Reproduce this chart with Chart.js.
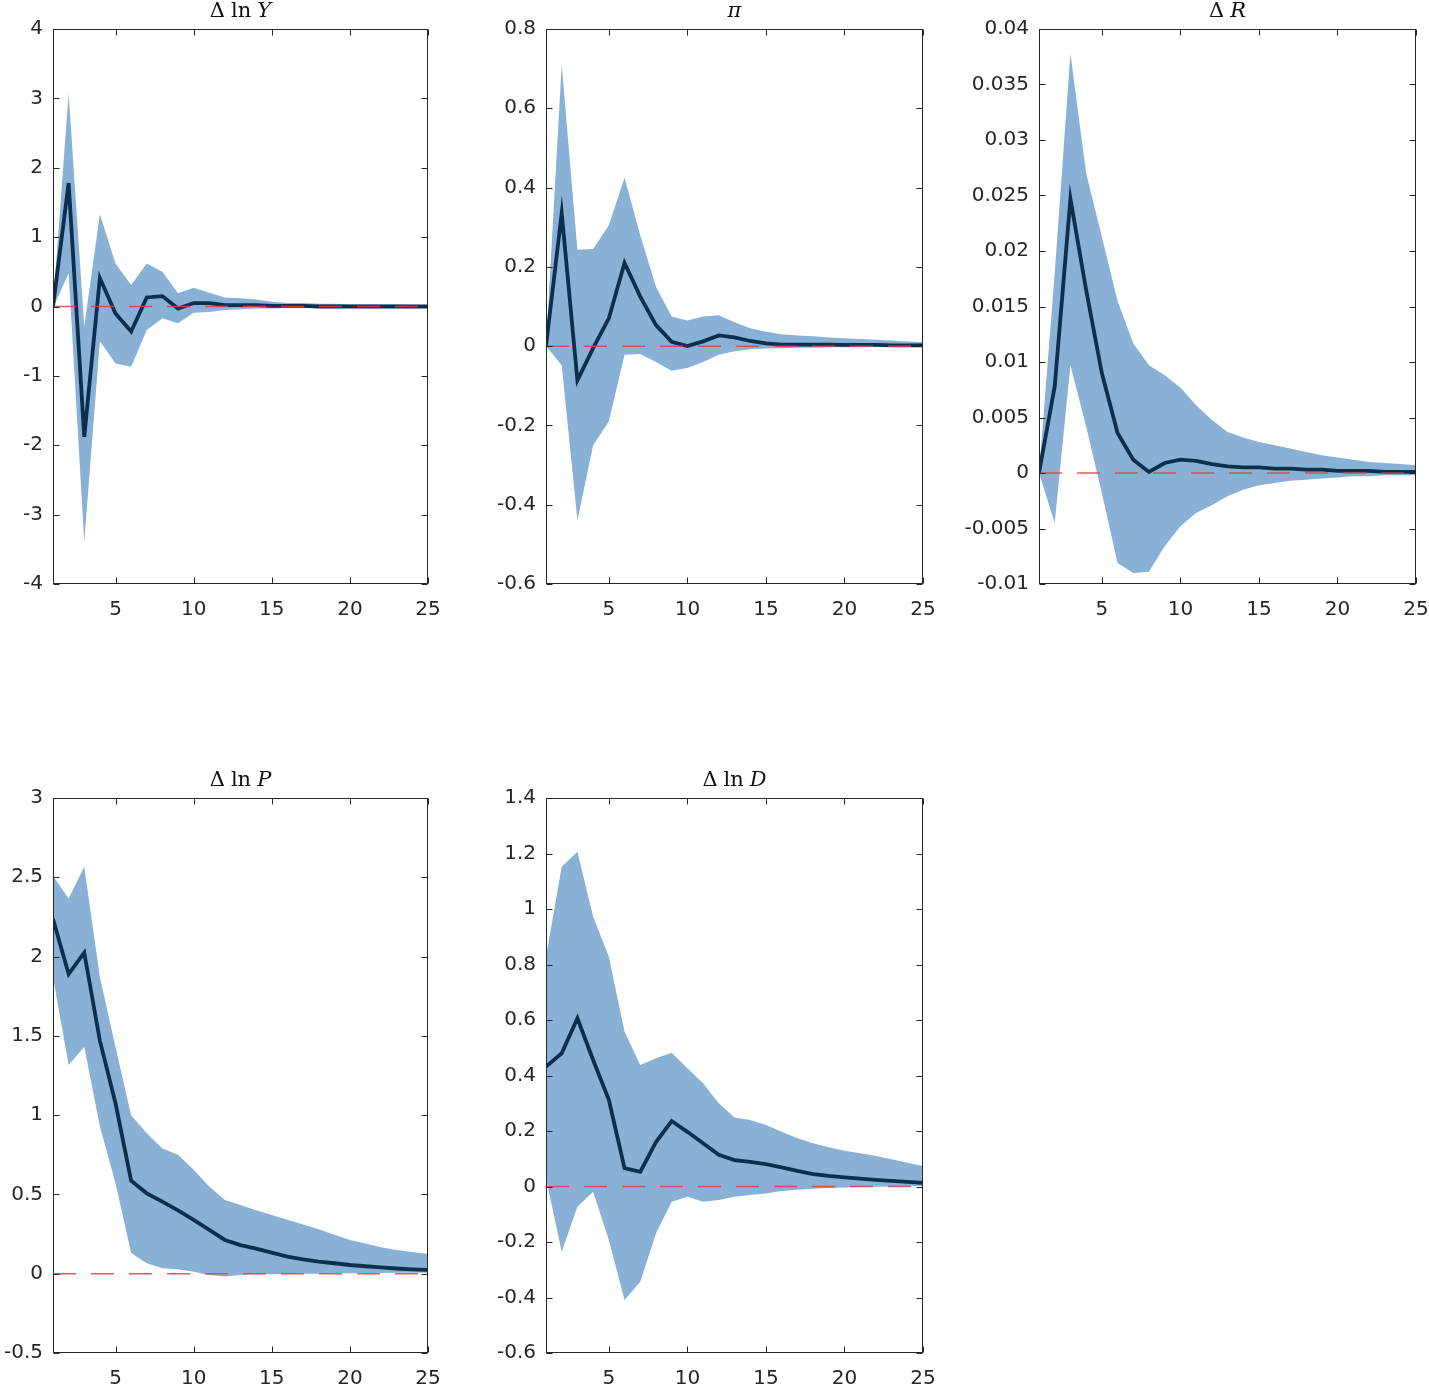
<!DOCTYPE html>
<html>
<head>
<meta charset="utf-8">
<script src="https://cdn.jsdelivr.net/npm/chart.js@4.4.1/dist/chart.umd.min.js"></script>
<style>
  html, body { margin: 0; padding: 0; background: #fff; }
  body { width: 1429px; height: 1388px; position: relative; overflow: hidden; }
  .panel { position: absolute; }
</style>
</head>
<body>
<div class="panel" id="p1"><canvas id="c1"></canvas></div>
<div class="panel" id="p2"><canvas id="c2"></canvas></div>
<div class="panel" id="p3"><canvas id="c3"></canvas></div>
<div class="panel" id="p4"><canvas id="c4"></canvas></div>
<div class="panel" id="p5"><canvas id="c5"></canvas></div>
<script>
// horizons on the x axis
const horizons = [1, 2, 3, 4, 5, 6, 7, 8, 9, 10, 11, 12, 13, 14, 15, 16, 17, 18, 19, 20, 21, 22, 23, 24, 25];
const xTicks = [5, 10, 15, 20, 25];

// Δ ln Y
const dlnYMedian = [0, 1.78, -1.88, 0.41, -0.10, -0.36, 0.13, 0.15, -0.03, 0.05, 0.05, 0.02, 0.02, 0.02, 0.01, 0.01, 0.01, 0.00, 0.00, 0.00, 0.00, 0.00, 0.00, 0.00, 0.00];
const dlnYUpper = [0.02, 3.07, -0.29, 1.33, 0.62, 0.31, 0.62, 0.50, 0.19, 0.27, 0.20, 0.13, 0.12, 0.10, 0.07, 0.05, 0.05, 0.04, 0.04, 0.03, 0.03, 0.03, 0.03, 0.02, 0.02];
const dlnYLower = [-0.02, 0.48, -3.39, -0.50, -0.82, -0.87, -0.34, -0.17, -0.24, -0.09, -0.08, -0.05, -0.04, -0.03, -0.03, -0.02, -0.02, -0.02, -0.02, -0.02, -0.02, -0.02, -0.02, -0.02, -0.02];
const dlnYTicks = [-4, -3, -2, -1, 0, 1, 2, 3, 4];

// π
const piMedian = [0, 0.335, -0.086, -0.005, 0.07, 0.21, 0.125, 0.053, 0.011, 0.0, 0.012, 0.027, 0.022, 0.013, 0.007, 0.004, 0.004, 0.004, 0.004, 0.003, 0.003, 0.003, 0.002, 0.002, 0.002];
const piUpper = [0, 0.71, 0.243, 0.245, 0.305, 0.425, 0.28, 0.15, 0.075, 0.065, 0.075, 0.078, 0.06, 0.045, 0.036, 0.03, 0.027, 0.025, 0.022, 0.02, 0.018, 0.016, 0.014, 0.012, 0.01];
const piLower = [0, -0.048, -0.44, -0.25, -0.19, -0.022, -0.02, -0.04, -0.062, -0.055, -0.04, -0.022, -0.013, -0.008, -0.006, -0.005, -0.004, -0.004, -0.003, -0.003, -0.003, -0.002, -0.002, -0.002, -0.002];
const piTicks = [-0.6, -0.4, -0.2, 0, 0.2, 0.4, 0.6, 0.8];

// Δ R
const dRMedian = [0, 0.0078, 0.0247, 0.0165, 0.009, 0.0036, 0.0012, 0.0001, 0.0009, 0.0012, 0.0011, 0.0008, 0.0006, 0.0005, 0.0005, 0.0004, 0.0004, 0.0003, 0.0003, 0.0002, 0.0002, 0.0002, 0.0001, 0.0001, 0.0001];
const dRUpper = [0, 0.018, 0.0378, 0.027, 0.0213, 0.0155, 0.0117, 0.0097, 0.0088, 0.0077, 0.0061, 0.0048, 0.0037, 0.0032, 0.0028, 0.0025, 0.0022, 0.0019, 0.0016, 0.0014, 0.0012, 0.001, 0.0009, 0.0008, 0.0007];
const dRLower = [0, -0.0045, 0.0097, 0.0042, -0.0018, -0.0081, -0.009, -0.0089, -0.0066, -0.0048, -0.0036, -0.0029, -0.0021, -0.0015, -0.0011, -0.0009, -0.0007, -0.0006, -0.0005, -0.0004, -0.0003, -0.0003, -0.0002, -0.0002, -0.0002];
const dRTicks = [-0.01, -0.005, 0, 0.005, 0.01, 0.015, 0.02, 0.025, 0.03, 0.035, 0.04];

// Δ ln P
const dlnPMedian = [2.237, 1.89, 2.025, 1.47, 1.075, 0.587, 0.507, 0.455, 0.40, 0.34, 0.276, 0.213, 0.18, 0.158, 0.133, 0.108, 0.091, 0.076, 0.066, 0.055, 0.047, 0.04, 0.033, 0.028, 0.024];
const dlnPUpper = [2.51, 2.367, 2.567, 1.87, 1.43, 1.0, 0.886, 0.79, 0.75, 0.655, 0.55, 0.465, 0.434, 0.40, 0.37, 0.34, 0.31, 0.28, 0.245, 0.213, 0.19, 0.167, 0.15, 0.137, 0.125];
const dlnPLower = [1.87, 1.317, 1.43, 0.93, 0.57, 0.13, 0.066, 0.035, 0.028, 0.013, -0.008, -0.018, -0.008, -0.002, -0.003, -0.002, 0, 0, 0.002, 0.003, 0.004, 0.005, 0.006, 0.006, 0.006];
const dlnPTicks = [-0.5, 0, 0.5, 1, 1.5, 2, 2.5, 3];

// Δ ln D
const dlnDMedian = [0.432, 0.48, 0.606, 0.456, 0.312, 0.066, 0.053, 0.16, 0.236, 0.197, 0.156, 0.114, 0.095, 0.089, 0.081, 0.069, 0.056, 0.045, 0.038, 0.033, 0.028, 0.024, 0.02, 0.017, 0.013];
const dlnDUpper = [0.828, 1.152, 1.206, 0.972, 0.828, 0.558, 0.438, 0.462, 0.482, 0.426, 0.372, 0.30, 0.249, 0.24, 0.222, 0.197, 0.174, 0.156, 0.141, 0.129, 0.12, 0.11, 0.098, 0.086, 0.074];
const dlnDLower = [0.03, -0.235, -0.073, -0.019, -0.193, -0.409, -0.343, -0.169, -0.055, -0.037, -0.055, -0.049, -0.037, -0.031, -0.025, -0.016, -0.012, -0.008, -0.005, -0.004, -0.002, -0.001, 0, 0.001, 0.002];
const dlnDTicks = [-0.6, -0.4, -0.2, 0, 0.2, 0.4, 0.6, 0.8, 1, 1.2, 1.4];

const bandColor = "#89b1d6";
const lineColor = "#0c2f4f";
const zeroColor = "rgba(226, 62, 72, 0.85)";
const axisColor = "#262626";
const tickFont = { family: "DejaVu Sans", size: 20 };

// padding around each plot area inside its canvas
const padTop = 28;
const padRight = 32;
const xAxisHeight = 36;

const panels = [
  { id: "1", title: [["Δ", false], ["ln", false], ["Y", true]], median: dlnYMedian, upper: dlnYUpper, lower: dlnYLower, ticks: dlnYTicks, left: 53, top: 29, w: 375, h: 555, yw: 53 },
  { id: "2", title: [["π", true]], median: piMedian, upper: piUpper, lower: piLower, ticks: piTicks, left: 546, top: 29, w: 377, h: 555, yw: 86 },
  { id: "3", title: [["Δ", false], ["R", true]], median: dRMedian, upper: dRUpper, lower: dRLower, ticks: dRTicks, left: 1039, top: 29, w: 377, h: 555, yw: 88 },
  { id: "4", title: [["Δ", false], ["ln", false], ["P", true]], median: dlnPMedian, upper: dlnPUpper, lower: dlnPLower, ticks: dlnPTicks, left: 53, top: 798, w: 375, h: 555, yw: 53 },
  { id: "5", title: [["Δ", false], ["ln", false], ["D", true]], median: dlnDMedian, upper: dlnDUpper, lower: dlnDLower, ticks: dlnDTicks, left: 546, top: 798, w: 377, h: 555, yw: 86 },
];

// box, inward ticks on all four sides, and the LaTeX-ish title
const frameAndTitle = {
  id: "frameAndTitle",
  afterDatasetsDraw(chart, args, opts) {
    const { ctx, chartArea: a, scales } = chart;
    ctx.save();
    ctx.strokeStyle = axisColor;
    ctx.lineWidth = 1;
    const L = Math.round(a.left) + 0.5, R = Math.round(a.right) - 0.5;
    const T = Math.round(a.top) + 0.5, B = Math.round(a.bottom) - 0.5;
    ctx.strokeRect(L, T, R - L, B - T);
    const tl = 6;
    ctx.beginPath();
    xTicks.forEach((v) => {
      const x = Math.round(scales.x.getPixelForValue(v)) + 0.5;
      ctx.moveTo(x, B); ctx.lineTo(x, B - tl);
      ctx.moveTo(x, T); ctx.lineTo(x, T + tl);
    });
    opts.yTicks.forEach((v) => {
      const y = Math.round(scales.y.getPixelForValue(v)) + 0.5;
      ctx.moveTo(L, y); ctx.lineTo(L + tl, y);
      ctx.moveTo(R, y); ctx.lineTo(R - tl, y);
    });
    ctx.stroke();
    ctx.restore();
  },
  afterDraw(chart, args, opts) {
    const { ctx, chartArea: a } = chart;
    const gap = 6;
    ctx.save();
    ctx.fillStyle = "#111";
    ctx.textBaseline = "alphabetic";
    const fontFor = (it) => (it ? "italic " : "") + "21px 'DejaVu Serif'";
    let total = 0;
    opts.parts.forEach(([t, it], i) => {
      ctx.font = fontFor(it);
      total += ctx.measureText(t).width + (i ? gap : 0);
    });
    let x = (a.left + a.right) / 2 - total / 2;
    const y = a.top - 12;
    opts.parts.forEach(([t, it]) => {
      ctx.font = fontFor(it);
      ctx.fillText(t, x, y);
      x += ctx.measureText(t).width + gap;
    });
    ctx.restore();
  },
};

panels.forEach((p) => {
  const box = document.getElementById("p" + p.id);
  box.style.left = p.left - p.yw + "px";
  box.style.top = p.top - padTop + "px";
  box.style.width = p.yw + p.w + padRight + "px";
  box.style.height = padTop + p.h + xAxisHeight + "px";

  const pts = (arr) => horizons.map((h, i) => ({ x: h, y: arr[i] }));

  new Chart(document.getElementById("c" + p.id), {
    type: "line",
    plugins: [frameAndTitle],
    data: {
      datasets: [
        {
          data: [{ x: horizons[0], y: 0 }, { x: horizons[horizons.length - 1], y: 0 }],
          borderColor: zeroColor, borderWidth: 1.5, borderDash: [23, 15], pointRadius: 0, fill: false,
        },
        { data: pts(p.median), borderColor: lineColor, borderWidth: 3.8, pointRadius: 0, fill: false, tension: 0 },
        { data: pts(p.upper), borderWidth: 0, borderColor: "transparent", backgroundColor: bandColor, pointRadius: 0, fill: "+1" },
        { data: pts(p.lower), borderWidth: 0, borderColor: "transparent", backgroundColor: bandColor, pointRadius: 0, fill: false },
      ],
    },
    options: {
      responsive: true,
      maintainAspectRatio: false,
      animation: false,
      events: [],
      layout: { padding: { top: padTop, right: padRight, left: 0, bottom: 0 } },
      plugins: {
        legend: { display: false },
        tooltip: { enabled: false },
        frameAndTitle: { parts: p.title, yTicks: p.ticks },
      },
      scales: {
        x: {
          type: "linear", min: 1, max: 25,
          grid: { display: false, drawTicks: false },
          border: { display: false },
          afterBuildTicks: (s) => { s.ticks = xTicks.map((v) => ({ value: v })); },
          afterFit: (s) => { s.height = xAxisHeight; },
          ticks: { font: tickFont, color: axisColor, padding: 14, maxRotation: 0, autoSkip: false },
        },
        y: {
          type: "linear", min: p.ticks[0], max: p.ticks[p.ticks.length - 1],
          grid: { display: false, drawTicks: false },
          border: { display: false },
          afterBuildTicks: (s) => { s.ticks = p.ticks.map((v) => ({ value: v })); },
          afterFit: (s) => { s.width = p.yw; },
          ticks: { font: tickFont, color: axisColor, padding: 10, autoSkip: false, callback: (v) => String(v) },
        },
      },
    },
  });
});
</script>
</body>
</html>
